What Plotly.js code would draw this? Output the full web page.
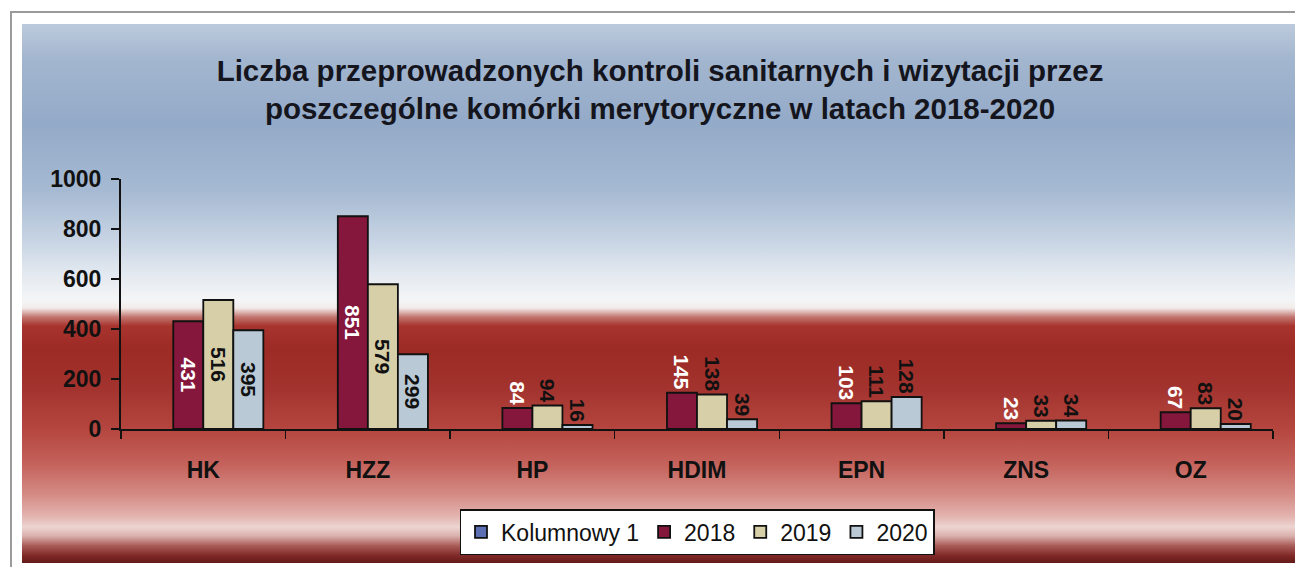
<!DOCTYPE html>
<html>
<head>
<meta charset="utf-8">
<script src="https://cdn.plot.ly/plotly-3.0.1.min.js"></script>
<style>
  html, body { margin: 0; padding: 0; background: #ffffff; }
  #wrap { position: relative; width: 1295px; height: 567px; overflow: hidden; }
  #frame { position: absolute; left: 10px; top: 11px; width: 1400px; height: 700px;
           border-left: 2px solid #9a9a9a; border-top: 2px solid #9a9a9a; }
  #bg { position: absolute; left: 22px; top: 24px; width: 1273px; height: 539px;
        background: linear-gradient(to bottom,
          #bccadc 0px, #a3b6cf 35px, #93aac8 100px, #a5b9d2 165px, #c6d3e3 215px,
          #e3e9f0 250px, #f4f5f6 276px, #f2ecea 284px, #c27670 293px, #a8342e 302px,
          #9c2a25 325px, #a3332e 365px, #b4463f 405px, #c4625b 440px, #d48a84 470px,
          #e3b3ae 492px, #edd5d2 503px, #d9b0ac 512px, #a85a56 522px, #7e2826 532px, #641a18 539px); }
  #chart { position: absolute; left: 0; top: 0; width: 1295px; height: 567px; }
</style>
</head>
<body>
<div id="wrap">
  <div id="frame"></div>
  <div id="bg"></div>
  <div id="chart"></div>
</div>
<script>
const categories = ["HK", "HZZ", "HP", "HDIM", "EPN", "ZNS", "OZ"];
const seriesNames = ["Kolumnowy 1", "2018", "2019", "2020"];
const valuesKolumnowy1 = [null, null, null, null, null, null, null];
const values2018 = [431, 851, 84, 145, 103, 23, 67];
const values2019 = [516, 579, 94, 138, 111, 33, 83];
const values2020 = [395, 299, 16, 39, 128, 34, 20];
const yTickValues = [0, 200, 400, 600, 800, 1000];

const seriesValues = [valuesKolumnowy1, values2018, values2019, values2020];
const fillColors = ["#5b6fb2", "#85163c", "#d6cfa8", "#b9c9d5"];
const textColors = ["#ffffff", "#ffffff", "#111111", "#111111"];
const labelFont = { family: "Liberation Sans, Arial, sans-serif", size: 21, weight: 700 };

const traces = seriesValues.map((vals, i) => ({
  type: "bar",
  name: seriesNames[i],
  x: categories,
  y: vals,
  text: vals.map(v => (v === null ? "" : String(v))),
  // labels that do not fit inside a short bar sit just above it
  textposition: vals.map(v => (v !== null && v >= 150 ? "inside" : "outside")),
  insidetextanchor: "middle",
  textangle: 90,
  constraintext: "none",
  cliponaxis: false,
  insidetextfont: Object.assign({ color: textColors[i] }, labelFont),
  outsidetextfont: Object.assign({ color: textColors[i] }, labelFont),
  marker: { color: fillColors[i], line: { color: "#111111", width: 1.8 } },
  hoverinfo: "x+y+name"
}));

const layout = {
  width: 1295,
  height: 567,
  paper_bgcolor: "rgba(0,0,0,0)",
  plot_bgcolor: "rgba(0,0,0,0)",
  margin: { l: 121, r: 22, t: 179, b: 138 },
  barmode: "group",
  bargap: 0.27,
  bargroupgap: 0,
  showlegend: true,
  title: {
    text: "Liczba przeprowadzonych kontroli sanitarnych i wizytacji przez<br>poszczególne komórki merytoryczne w latach 2018-2020",
    font: { family: "Liberation Sans, Arial, sans-serif", size: 29.5, weight: 700, color: "#15151e" },
    xref: "container", x: 0.5097, xanchor: "center",
    yref: "container", y: 0.857, yanchor: "middle"
  },
  xaxis: {
    type: "category",
    tickson: "boundaries",
    ticks: "outside",
    ticklen: 8,
    tickwidth: 1.5,
    tickcolor: "#111111",
    showline: true,
    linecolor: "#111111",
    linewidth: 2,
    showgrid: false,
    zeroline: false,
    ticklabelstandoff: 19,
    tickfont: { family: "Liberation Sans, Arial, sans-serif", size: 23, weight: 700, color: "#111111" }
  },
  yaxis: {
    range: [0, 1000],
    tickvals: yTickValues,
    ticktext: yTickValues.map(String),
    ticks: "outside",
    ticklen: 8,
    tickwidth: 1.5,
    tickcolor: "#111111",
    showline: true,
    linecolor: "#111111",
    linewidth: 2,
    showgrid: false,
    zeroline: false,
    ticklabelstandoff: 5,
    tickfont: { family: "Liberation Sans, Arial, sans-serif", size: 23, weight: 700, color: "#111111" }
  },
  legend: {
    orientation: "h",
    x: 0.5, xanchor: "center",
    y: -0.412, yanchor: "middle",
    bgcolor: "#ffffff",
    bordercolor: "#111111",
    borderwidth: 1.5,
    itemwidth: 30,
    font: { family: "Liberation Sans, Arial, sans-serif", size: 23, color: "#111111" }
  }
};

Plotly.newPlot("chart", traces, layout, { displayModeBar: false, staticPlot: true });
</script>
</body>
</html>
